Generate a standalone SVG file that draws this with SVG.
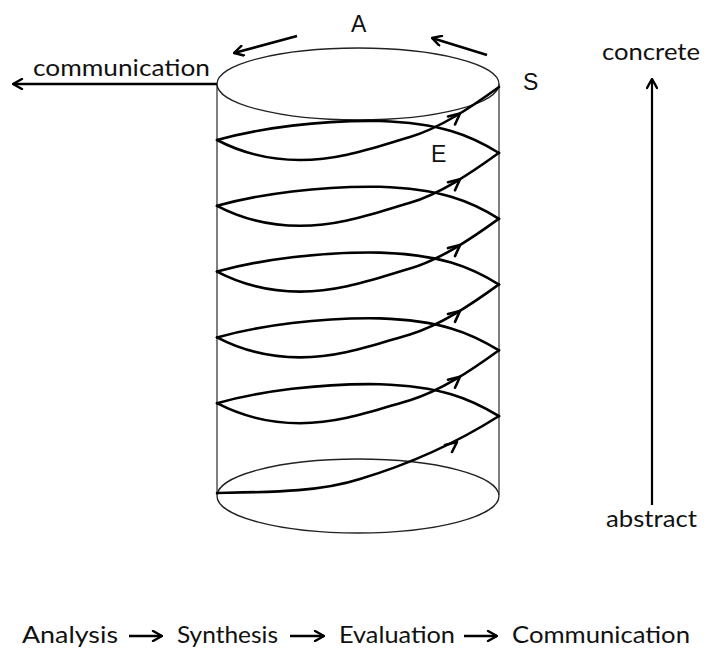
<svg xmlns="http://www.w3.org/2000/svg" xmlns:xlink="http://www.w3.org/1999/xlink" width="706" height="651" viewBox="0 0 706 651">
<style>
.cyl{fill:none;stroke:#222;stroke-width:1.3}
.side{fill:none;stroke:#555;stroke-width:1.5}
.sp{fill:none;stroke:#000;stroke-width:2.6;stroke-linecap:round;stroke-linejoin:round}
.ar{fill:none;stroke:#000;stroke-width:2.6;stroke-linecap:round;stroke-linejoin:round}
.lbl{font-family:"Liberation Sans",Arial,sans-serif;font-size:23px;fill:#111}
.txt{font-family:Lato,"Open Sans",sans-serif;font-size:23px;fill:#111}
</style>
<defs>
<marker id="head" viewBox="0 0 12 12" refX="11" refY="6" markerWidth="12" markerHeight="12" markerUnits="userSpaceOnUse" orient="auto">
<path d="M2,1 L11,6 L2,11" fill="none" stroke="#000" stroke-width="2.4" stroke-linecap="round" stroke-linejoin="round"/>
</marker>
<g id="turn">
<path class="sp" d="M217,140 C240,152 265,160 300,160 C340,160 372,148 410,137 C440,128 470,108 499,87"/>
<path class="sp" d="M499,153 C470,135 440,123 380,121 C320,120 260,128 217,140"/>
<path class="ar" d="M448,116.5 L460,113.5 L455,124.5"/>
</g>
</defs>
<g id="cylinder">
<line class="side" x1="217" y1="84" x2="217" y2="495"/>
<line class="side" x1="499" y1="84" x2="499" y2="495"/>
<ellipse class="cyl" cx="358" cy="84" rx="141" ry="36" fill="#fff"/>
<ellipse class="cyl" cx="358" cy="496" rx="141" ry="37"/>
</g>
<g id="spiral">
<use xlink:href="#turn"/>
<use xlink:href="#turn" transform="translate(0,65.8)"/>
<use xlink:href="#turn" transform="translate(0,131.6)"/>
<use xlink:href="#turn" transform="translate(0,197.4)"/>
<use xlink:href="#turn" transform="translate(0,263.2)"/>
<path class="sp" d="M217,493 C270,492 320,492 360,479 C400,467 450,447 499,416"/>
<path class="ar" d="M445,445 L457,442 L452,452"/>
</g>
<g id="connectors">
<line x1="217" y1="84" x2="13" y2="84" stroke="#000" stroke-width="2.6" marker-end="url(#head)"/>
<line x1="297" y1="36" x2="234" y2="53" stroke="#000" stroke-width="2.6" marker-end="url(#head)"/>
<line x1="487" y1="55" x2="432" y2="38" stroke="#000" stroke-width="2.6" marker-end="url(#head)"/>
<line x1="652" y1="505" x2="652" y2="79" stroke="#000" stroke-width="2.2" marker-end="url(#head)"/>
</g>
<g id="labels">
<text class="lbl" x="351" y="32">A</text>
<text class="lbl" x="523" y="90">S</text>
<text class="lbl" x="431" y="162">E</text>
<text class="txt" x="33" y="76" textLength="177" lengthAdjust="spacingAndGlyphs">communication</text>
<text class="txt" x="602" y="60" textLength="98" lengthAdjust="spacingAndGlyphs">concrete</text>
<text class="txt" x="606" y="527" textLength="91" lengthAdjust="spacingAndGlyphs">abstract</text>
</g>
<g id="process">
<text class="txt" x="22" y="643" textLength="96" lengthAdjust="spacingAndGlyphs">Analysis</text>
<text class="txt" x="177" y="643" textLength="101" lengthAdjust="spacingAndGlyphs">Synthesis</text>
<text class="txt" x="339" y="643" textLength="116" lengthAdjust="spacingAndGlyphs">Evaluation</text>
<text class="txt" x="512" y="643" textLength="178" lengthAdjust="spacingAndGlyphs">Communication</text>
<line x1="129" y1="636" x2="162" y2="636" stroke="#000" stroke-width="2.6" marker-end="url(#head)"/>
<line x1="290" y1="636" x2="324" y2="636" stroke="#000" stroke-width="2.6" marker-end="url(#head)"/>
<line x1="464" y1="636" x2="497" y2="636" stroke="#000" stroke-width="2.6" marker-end="url(#head)"/>
</g>
</svg>
